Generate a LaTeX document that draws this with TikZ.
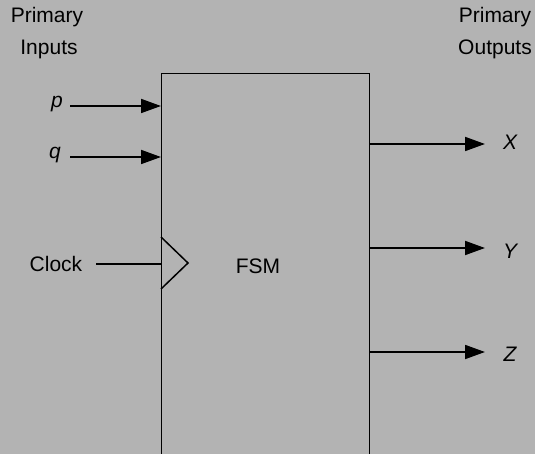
\documentclass[tikz,border=0pt]{standalone}
\usepackage{fontspec}
\setmainfont{Liberation Sans}
\usetikzlibrary{arrows.meta}
\begin{document}
\begin{tikzpicture}[x=1pt,y=-1pt,
  txt/.style={font=\fontsize{21}{25}\selectfont, inner sep=0pt},
  sig/.style={line width=1.8pt, -{Triangle[length=20pt,width=14pt]}},
  wire/.style={line width=1.3pt}]
  \useasboundingbox (0,0) rectangle (535,454);
  \fill[fill={rgb,255:red,179;green,179;blue,179}] (0,0) rectangle (535,454);
  \clip (0,0) rectangle (535,454);

  % the machine block, open at the bottom edge
  \node[draw, wire, minimum width=208pt, minimum height=420pt, anchor=north west, inner sep=0pt] (fsm) at (161,73) {};
  \node[txt] (fsmtext) at (258,266) {FSM};

  % headings
  \node[txt] (pi1) at (47,17) {Primary};
  \node[txt] (pi2) at (49,49) {Inputs};
  \node[txt] (po1) at (495,17) {Primary};
  \node[txt] (po2) at (495,49) {Outputs};

  % inputs
  \node[txt] (p) at (57,104) {\itshape p};
  \node[txt] (q) at (55,155) {\itshape q};
  \coordinate (pin) at (70,106);
  \coordinate (qin) at (70,157);
  \draw[sig] (pin) -- (pin -| fsm.west);
  \draw[sig] (qin) -- (qin -| fsm.west);

  % clock input with its edge marker
  \node[txt] (clk) at (56,264) {Clock};
  \coordinate (clkin) at (96,264);
  \draw[wire, line width=1.5pt] (clkin) -- (clkin -| fsm.west);
  \coordinate (c1) at (161,237);
  \coordinate (c2) at (188,263);
  \coordinate (c3) at (161,289);
  \draw[line width=1.5pt] (c1) -- (c2) -- (c3);

  % outputs
  \node[txt] (x) at (510,142) {\itshape X};
  \node[txt] (y) at (510,251) {\itshape Y};
  \node[txt] (z) at (510,354) {\itshape Z};
  \coordinate (xo) at (485,144);
  \coordinate (yo) at (485,248);
  \coordinate (zo) at (485,352);
  \draw[sig] (xo -| fsm.east) -- (xo);
  \draw[sig] (yo -| fsm.east) -- (yo);
  \draw[sig] (zo -| fsm.east) -- (zo);
\end{tikzpicture}
\end{document}
